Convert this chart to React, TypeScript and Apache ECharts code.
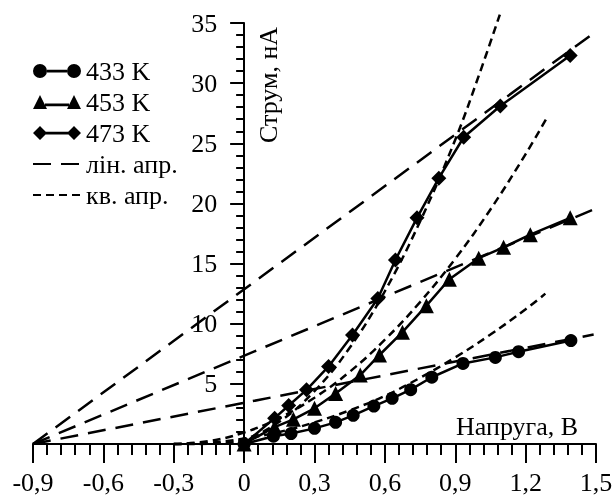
import React, { useEffect, useRef } from 'react';
import * as echarts from 'echarts';

const FONT = 'Liberation Serif';

// Measured data (x: voltage V, y: current nA)
const s433: number[][] = [
  [0, 0], [0.125, 0.65], [0.2, 0.87], [0.3, 1.3], [0.39, 1.8], [0.465, 2.38], [0.553, 3.15],
  [0.631, 3.8], [0.71, 4.52], [0.8, 5.55], [0.933, 6.7], [1.071, 7.2], [1.17, 7.67], [1.393, 8.6],
];
const s453: number[][] = [
  [0, 0], [0.13, 1.4], [0.21, 2.05], [0.3, 2.97], [0.39, 4.2], [0.495, 5.73], [0.577, 7.4],
  [0.675, 9.3], [0.777, 11.5], [0.875, 13.7], [1.0, 15.45], [1.106, 16.35], [1.22, 17.4], [1.39, 18.8],
];
const s473: number[][] = [
  [0, 0], [0.13, 2.15], [0.19, 3.2], [0.266, 4.5], [0.36, 6.45], [0.462, 9.06], [0.57, 12.1],
  [0.645, 15.3], [0.737, 18.8], [0.83, 22.1], [0.936, 25.5], [1.092, 28.1], [1.39, 32.3],
];
const lin433: number[][] = [[-0.9, 0], [1.49, 9.1]];
const lin453: number[][] = [[-0.9, 0], [1.49, 19.5]];
const lin473: number[][] = [[-0.9, 0], [1.5, 34.3]];
const quad433: number[][] = [
  [-0.3, 0], [-0.15, 0.1], [0, 0.45], [0.15, 1.0], [0.3, 1.8], [0.45, 2.8], [0.6, 4.0], [0.75, 5.5],
  [0.9, 7.2], [1.05, 9.1], [1.2, 11.2], [1.284, 12.5],
];
const quad453: number[][] = [
  [-0.3, 0], [-0.15, 0.24], [0, 0.96], [0.15, 2.17], [0.3, 3.85], [0.45, 6.0], [0.6, 8.67], [0.75, 11.8],
  [0.9, 15.4], [1.05, 19.5], [1.2, 24.1], [1.29, 27.1],
];
const quad473: number[][] = [
  [-0.3, 0], [-0.15, 0.02], [0, 0.4], [0.15, 1.85], [0.3, 4.4], [0.45, 8.0], [0.6, 12.7], [0.75, 18.5],
  [0.9, 25.3], [1.0, 30.6], [1.09, 35.7],
];

const seriesNames = ['433 K', '453 K', '473 K'];
const linName = 'лін. апр.';
const quadName = 'кв. апр.';
const xTitle = 'Напруга, В';
const yTitle = 'Струм, нА';

const ICON_CIRCLE = 'path://M0,7A7,7 0 1 1 14,7A7,7 0 1 1 0,7Z M14,5.8L34,5.8L34,8.4L14,8.4Z M34,7A7,7 0 1 1 48,7A7,7 0 1 1 34,7Z';
const ICON_TRI = 'path://M0,14L7,0L14,14Z M12,8.6L36,8.6L36,11.2L12,11.2Z M34,14L41,0L48,14Z';
const ICON_DIAM = 'path://M0,7L7,0L14,7L7,14Z M12,5.8L36,5.8L36,8.4L12,8.4Z M34,7L41,0L48,7L41,14Z';

const fmtX = (v: number) => (Math.abs(v) < 1e-9 ? '0' : v.toFixed(1).replace('.', ','));

const GRID_LEFT = 33;
const GRID_RIGHT = 19;
const X_MIN = -0.9;
const X_MAX = 1.5;

export default function App() {
  const ref = useRef<HTMLDivElement>(null);
  useEffect(() => {
    if (!ref.current) return;
    const chart = echarts.init(ref.current, null, { renderer: 'svg' });
    const black = '#000';
    const gridW = 615 - GRID_LEFT - GRID_RIGHT;
    const yAxisOffset = -((0 - X_MIN) / (X_MAX - X_MIN)) * gridW;
    const txt = { fontFamily: FONT, fontSize: 26, color: black };
    const dataSeries = (name: string, data: number[][], symbol: string, size: number) => ({
      type: 'line', name, data, symbol, symbolSize: size, showSymbol: true,
      color: black, itemStyle: { color: black }, lineStyle: { color: black, width: 2.5 }, z: 5,
    });
    const linSeries = (data: number[][]) => ({
      type: 'line', name: linName, data, symbol: 'none', color: black, itemStyle: { color: black },
      lineStyle: { color: black, width: 2.5, type: [18, 10] }, z: 3,
    });
    const quadSeries = (data: number[][]) => ({
      type: 'line', name: quadName, data, symbol: 'none', smooth: 0.4, clip: false,
      color: black, itemStyle: { color: black },
      lineStyle: { color: black, width: 2.5, type: [8, 5] }, z: 3,
    });
    const tickStyle = { color: black, width: 2 };
    chart.setOption({
      animation: false,
      grid: { left: GRID_LEFT, right: GRID_RIGHT, top: 23, bottom: 51, containLabel: false, outerBoundsMode: 'none' },
      legend: {
        orient: 'vertical', left: 27, top: 53, itemWidth: 48, itemHeight: 14, itemGap: 5, itemTextGap: 7,
        selectedMode: false,
        textStyle: { ...txt },
        data: [
          { name: seriesNames[0], icon: ICON_CIRCLE },
          { name: seriesNames[1], icon: ICON_TRI },
          { name: seriesNames[2], icon: ICON_DIAM },
          { name: linName, itemStyle: { color: 'rgba(0,0,0,0)', borderWidth: 0 } },
          { name: quadName, itemStyle: { color: 'rgba(0,0,0,0)', borderWidth: 0 } },
        ],
      },
      xAxis: {
        type: 'value', min: X_MIN, max: X_MAX, interval: 0.3,
        axisLine: { show: true, onZero: true, lineStyle: tickStyle },
        axisTick: { show: true, length: 19, lineStyle: tickStyle },
        minorTick: { show: true, splitNumber: 5, length: 11, lineStyle: tickStyle },
        splitLine: { show: false },
        axisLabel: { margin: 25, ...txt, formatter: fmtX },
      },
      yAxis: {
        type: 'value', min: 0, max: 35, interval: 5, position: 'left', offset: yAxisOffset,
        axisLine: { show: true, onZero: false, lineStyle: tickStyle },
        axisTick: { show: true, length: 14, lineStyle: tickStyle },
        minorTick: { show: true, splitNumber: 5, length: 8, lineStyle: tickStyle },
        splitLine: { show: false },
        axisLabel: { margin: 27, ...txt, formatter: (v: number) => (v === 0 ? '' : String(v)) },
      },
      graphic: [
        {
          type: 'text', x: 456, y: 413,
          style: { text: xTitle, fontSize: 26, fontFamily: FONT, fill: black },
        },
        {
          type: 'text', x: 255, y: 143, rotation: Math.PI / 2,
          style: { text: yTitle, fontSize: 26, fontFamily: FONT, fill: black },
        },
      ],
      series: [
        linSeries(lin433), linSeries(lin453), linSeries(lin473),
        quadSeries(quad433), quadSeries(quad453), quadSeries(quad473),
        dataSeries(seriesNames[0], s433, 'circle', 13),
        dataSeries(seriesNames[1], s453, 'triangle', 15),
        dataSeries(seriesNames[2], s473, 'diamond', 15),
      ],
    });
    return () => chart.dispose();
  }, []);
  return <div ref={ref} style={{ position: 'fixed', left: 0, top: 0, width: 615, height: 495 }} />;
}
